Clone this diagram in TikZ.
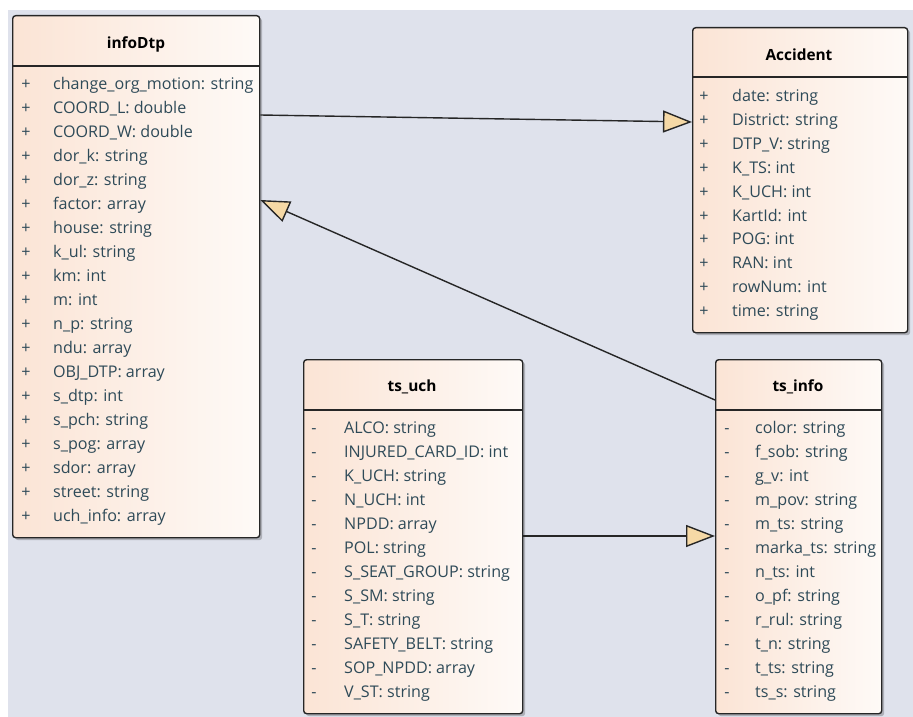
\documentclass[tikz,border=0pt]{standalone}
\usepackage{fontspec}
\setmainfont{Open Sans}
\usetikzlibrary{arrows.meta,shadows}
\definecolor{bgc}{HTML}{DFE2EC}
\definecolor{peach}{HTML}{FBE4D5}
\definecolor{paper}{HTML}{FEFAF7}
\definecolor{txt}{HTML}{2E4A58}
\definecolor{edge}{HTML}{262626}
\definecolor{tipfill}{HTML}{F6D9A6}
\tikzset{
  umlbox/.style={draw=edge, line width=1.4pt, rounded corners=3pt, left color=peach, right color=paper,
    inner sep=0pt, anchor=north west,
    drop shadow={shadow xshift=2.5pt, shadow yshift=-2.5pt, opacity=0.22, fill=black}},
  umltitle/.style={font=\fontsize{15.4}{17}\selectfont\bfseries, text=black, inner sep=0pt},
  rowtext/.style={font=\fontsize{16.1}{18}\selectfont, text=txt, inner sep=0pt, anchor=base west},
  rowmark/.style={font=\fontsize{16.1}{18}\selectfont, text=txt, inner sep=0pt, anchor=base},
  divider/.style={draw=edge, line width=1.4pt},
  assoc/.style={draw=edge, line width=1.4pt, -{Triangle[length=29pt,width=22pt,fill=tipfill,line width=1.4pt]}}
}
\begin{document}
\begin{tikzpicture}[x=1pt,y=-1pt]
\useasboundingbox (0,0) rectangle (913,717);
\fill[white] (0,0) rectangle (913,717);
\fill[bgc] (8,10) rectangle (913,717);

% infoDtp
\node[umlbox, minimum width=247pt, minimum height=522pt] (infoDtp) at (12,15) {};
\draw[divider] (12,66) -- (259,66);
\node[umltitle] (infoDtpT) at (136,44) {infoDtp};
\foreach \t [count=\i] in {change\_org\_motion: string, COORD\_L: double, COORD\_W: double, dor\_k: string, dor\_z: string, factor: array, house: string, k\_ul: string, km: int, m: int, n\_p: string, ndu: array, OBJ\_DTP: array, s\_dtp: int, s\_pch: string, s\_pog: array, sdor: array, street: string, uch\_info: array}{
  \node[rowmark] (infoDtpM\i) at (26,{84+24*(\i-1)+5.5}) {+};
  \node[rowtext] (infoDtpR\i) at (53,{84+24*(\i-1)+5.5}) {\t};
}

% Accident
\node[umlbox, minimum width=215pt, minimum height=305pt] (Accident) at (692,27) {};
\draw[divider] (692,77) -- (907,77);
\node[umltitle] (AccidentT) at (799,55) {Accident};
\foreach \t [count=\i] in {date: string, District: string, DTP\_V: string, K\_TS: int, K\_UCH: int, KartId: int, POG: int, RAN: int, rowNum: int, time: string}{
  \node[rowmark] (AccidentM\i) at (704,{96+23.9*(\i-1)+5.5}) {+};
  \node[rowtext] (AccidentR\i) at (732,{96+23.9*(\i-1)+5.5}) {\t};
}

% ts_uch
\node[umlbox, minimum width=219pt, minimum height=354pt] (tsuch) at (303,359) {};
\draw[divider] (303,410) -- (522,410);
\node[umltitle] (tsuchT) at (412,387) {ts\_uch};
\foreach \t [count=\i] in {ALCO: string, INJURED\_CARD\_ID: int, K\_UCH: string, N\_UCH: int, NPDD: array, POL: string, S\_SEAT\_GROUP: string, S\_SM: string, S\_T: string, SAFETY\_BELT: string, SOP\_NPDD: array, V\_ST: string}{
  \node[rowmark] (tsuchM\i) at (314,{428+24*(\i-1)+5.5}) {-};
  \node[rowtext] (tsuchR\i) at (344,{428+24*(\i-1)+5.5}) {\t};
}

% ts_info
\node[umlbox, minimum width=166pt, minimum height=354pt] (tsinfo) at (715,359) {};
\draw[divider] (715,410) -- (881,410);
\node[umltitle] (tsinfoT) at (798,387) {ts\_info};
\foreach \t [count=\i] in {color: string, f\_sob: string, g\_v: int, m\_pov: string, m\_ts: string, marka\_ts: string, n\_ts: int, o\_pf: string, r\_rul: string, t\_n: string, t\_ts: string, ts\_s: string}{
  \node[rowmark] (tsinfoM\i) at (727,{428+24*(\i-1)+5.5}) {-};
  \node[rowtext] (tsinfoR\i) at (755,{428+24*(\i-1)+5.5}) {\t};
}

% connectors
\draw[assoc] ([yshift=-100pt]infoDtp.north east) -- ([yshift=-95pt]Accident.north west);
\draw[assoc] ([yshift=-41pt]tsinfo.north west) -- ([yshift=-185pt]infoDtp.north east);
\draw[assoc] ([yshift=-177pt]tsuch.north east) -- ([yshift=-177pt]tsinfo.north west);
\end{tikzpicture}
\end{document}
